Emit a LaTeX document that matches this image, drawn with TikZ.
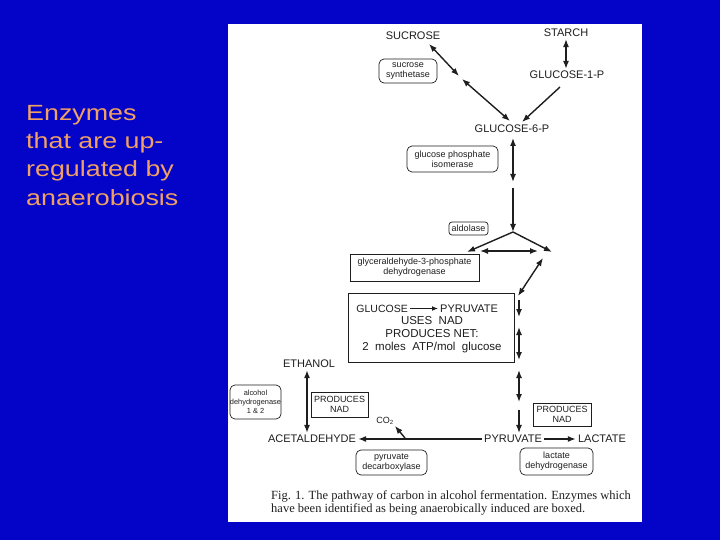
\documentclass[tikz,border=0pt]{standalone}
\usepackage{fontspec}
\setmainfont{Liberation Sans}
\newfontfamily\capfont{Liberation Serif}
\newfontfamily\widefont[FakeStretch=1.22]{Liberation Sans}
\usetikzlibrary{arrows.meta}
\definecolor{bgblue}{RGB}{4,4,200}
\definecolor{slidetxt}{RGB}{240,160,100}
\definecolor{ink}{RGB}{30,30,30}
\tikzset{
  lbl/.style={inner sep=2pt, font=\fontsize{11}{12}\selectfont, text=ink},
  enz/.style={draw=ink, line width=0.7pt, rounded corners=5pt, align=center, inner sep=0pt,
    font=\fontsize{9}{9.8}\selectfont, text=ink},
  sqbox/.style={draw=ink, line width=0.7pt, align=center, inner sep=0pt,
    font=\fontsize{9}{9.8}\selectfont, text=ink},
  arr/.style={line width=1.4pt, draw=ink, -{Latex[length=8pt,width=6pt]}},
  darr/.style={line width=1.4pt, draw=ink, {Latex[length=8pt,width=6pt]}-{Latex[length=8pt,width=6pt]}},
}
\begin{document}
\begin{tikzpicture}[x=1pt,y=-1pt]
\useasboundingbox (0,0) rectangle (720,540);
\fill[bgblue] (0,0) rectangle (720,540);
\fill[white] (228,24) rectangle (642,522);

% slide text
\node[anchor=north west, inner sep=0pt, align=left, text=slidetxt,
  font=\widefont\fontsize{22}{28.3}\selectfont] (title) at (26,105)
  {Enzymes\\that are up-\\regulated by\\anaerobiosis};

% metabolites
\node[lbl] (sucrose) at (413,36) {SUCROSE};
\node[lbl] (starch) at (566,33) {STARCH};
\node[lbl] (g1p) at (567,75) {GLUCOSE-1-P};
\node[lbl] (g6p) at (512,129) {GLUCOSE-6-P};
\node[lbl] (ethanol) at (309,364) {ETHANOL};
\node[lbl] (acet) at (312,439) {ACETALDEHYDE};
\node[lbl] (pyr) at (513,439) {PYRUVATE};
\node[lbl] (lact) at (602,439) {LACTATE};
\node[inner sep=1pt, font=\fontsize{9}{10}\selectfont, text=ink] (co2) at (385,421) {CO\textsubscript{2}};

% enzyme boxes
\node[enz, minimum width=58pt, minimum height=24pt] (sucsyn) at (408,71) {sucrose\\synthetase};
\node[enz, minimum width=91pt, minimum height=26pt] (gpi) at (452.5,159) {glucose phosphate\\isomerase};
\node[enz, rounded corners=3pt, minimum width=39pt, minimum height=13pt] (ald) at (468.5,228.5) {aldolase};
\node[sqbox, minimum width=129pt, minimum height=27pt] (gapdh) at (414.5,267.5) {glyceraldehyde-3-phosphate\\dehydrogenase};
\node[enz, minimum width=51pt, minimum height=34pt, font=\fontsize{7.4}{9}\selectfont] (adh) at (255.5,402) {alcohol\\dehydrogenase\\1 \& 2};
\node[sqbox, minimum width=57pt, minimum height=25pt, font=\fontsize{9}{10}\selectfont] (nadl) at (339.5,404.5) {PRODUCES\\NAD};
\node[sqbox, minimum width=58pt, minimum height=23pt, font=\fontsize{9}{10}\selectfont] (nadr) at (562,414.5) {PRODUCES\\NAD};
\node[enz, minimum width=71pt, minimum height=25pt] (pdc) at (391.5,462.5) {pyruvate\\decarboxylase};
\node[enz, minimum width=73pt, minimum height=27pt] (ldh) at (556.5,461.5) {lactate\\dehydrogenase};

% big box
\node[draw=ink, line width=0.7pt, minimum width=166pt, minimum height=69pt, inner sep=0pt] (big) at (431,327.5) {};
\node[lbl, anchor=east, font=\fontsize{10.5}{12}\selectfont] (bglc) at (410,308.5) {GLUCOSE};
\node[lbl, anchor=west, font=\fontsize{11}{12}\selectfont] (bpyr) at (438,308.5) {PYRUVATE};
\draw[line width=1.2pt, draw=ink, -{Latex[length=6pt,width=5pt]}] (bglc.east) -- (bpyr.west);
\node[align=center, inner sep=0pt, text=ink, font=\fontsize{11.5}{12.8}\selectfont] (btxt) at (432,334.5)
  {USES\ \ NAD\\PRODUCES NET:\\2\ \ moles\ \ ATP/mol\ \ glucose};

% caption
\node[anchor=north west, inner sep=0pt, align=left, text=ink,
  font=\capfont\fontsize{12.5}{13}\selectfont] (cap) at (271,490)
  {Fig. 1. The pathway of carbon in alcohol fermentation. Enzymes which\\
   have been identified as being anaerobically induced are boxed.};

% coordinates for connectors
\coordinate (s1) at (429,44);
\coordinate (s2) at (459,76);
\coordinate (s3) at (462,79);
\coordinate (s4) at (510,121);
\coordinate (g1) at (560,87);
\coordinate (g2) at (522,122);
\coordinate (a0) at (513,138);
\coordinate (a1) at (513,182);
\coordinate (a2) at (513,188);
\coordinate (apex) at (513,232);
\coordinate (tl) at (467,252);
\coordinate (tr) at (552,252);
\coordinate (h1) at (480,251);
\coordinate (h2) at (538,251);
\coordinate (d1) at (543,258);
\coordinate (d2) at (518,296);
\coordinate (v1) at (519,300);
\coordinate (v2) at (519,317);
\coordinate (v3) at (519,327);
\coordinate (v4) at (519,360);
\coordinate (v5) at (519,370);
\coordinate (v6) at (519,402);
\coordinate (v7) at (519,410);
\coordinate (cstart) at (405,438);

% connectors
\draw[darr] (s1) -- (s2);
\draw[darr] (s3) -- (s4);
\draw[darr] (starch.south) -- (g1p.north -| starch.south);
\draw[arr] (g1) -- (g2);
\draw[darr] (a0) -- (a1);
\draw[arr] (a2) -- (apex);
\draw[arr] (apex) -- (tl);
\draw[arr] (apex) -- (tr);
\draw[darr] (h1) -- (h2);
\draw[darr] (d1) -- (d2);
\draw[arr] (v1) -- (v2);
\draw[darr] (v3) -- (v4);
\draw[darr] (v5) -- (v6);
\draw[arr] (v7) -- (v7 |- pyr.north);
\draw[arr] (pyr.east) -- (lact.west);
\draw[arr] (pyr.west) -- (acet.east);
\draw[arr] (cstart) -- (co2.south east);
\draw[darr] ([xshift=-2pt]ethanol.south) -- ([xshift=-2pt]ethanol.south |- acet.north);
\end{tikzpicture}
\end{document}
